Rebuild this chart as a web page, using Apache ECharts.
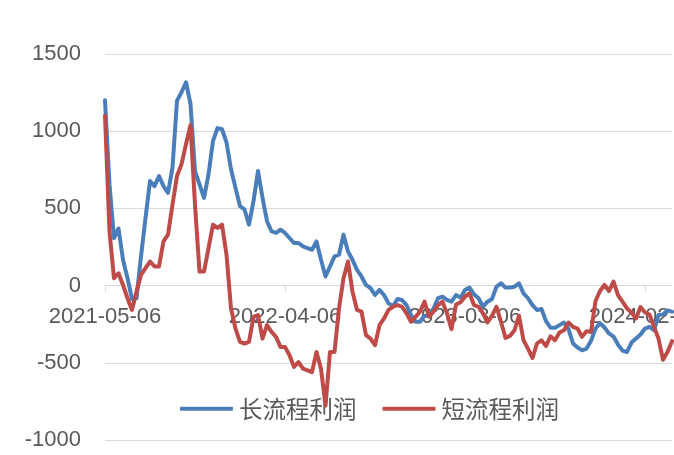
<!DOCTYPE html>
<html>
<head>
<meta charset="utf-8">
<script src="https://cdn.jsdelivr.net/npm/echarts@6/dist/echarts.min.js"></script>
<style>
html,body{margin:0;padding:0;background:#fff;}
#chart{width:674px;height:455px;}
</style>
</head>
<body>
<div id="chart"></div>
<script>
const seriesNames = ['长流程利润', '短流程利润'];
const tickLabels = ['2021-05-06', '2022-04-06', '2023-03-06', '2024-02-06'];
const tickEvery = 40;
const longProfit = [
  1200, 655, 308, 370, 167, 48, -87, -82, 189, 438,
  677, 644, 710, 644, 601, 764, 1198, 1252, 1317, 1176,
  742, 655, 568, 720, 937, 1020, 1013, 927, 753, 634,
  514, 493, 395, 547, 742, 569, 417, 352, 341, 362,
  341, 308, 276, 276, 254, 243, 232, 286, 167, 59,
  124, 189, 200, 330, 221, 167, 102, 59, 4, -17,
  -61, -28, -61, -115, -132, -87, -93, -126, -191, -234,
  -234, -195, -195, -148, -82, -72, -93, -104, -61, -78,
  -28, -13, -56, -82, -137, -104, -87, -7, 15, -13,
  -13, -7, 15, -50, -82, -126, -158, -152, -230, -273,
  -273, -256, -239, -282, -375, -401, -419, -408, -358, -278,
  -243, -271, -310, -330, -382, -421, -430, -369, -343, -317,
  -278, -267, -289, -191, -187, -161, -169
];
const shortProfit = [
  1100, 350, 48, 80, 4, -82, -158, -39, 69, 113,
  156, 124, 124, 286, 330, 525, 710, 785, 916, 1040,
  525, 91, 91, 243, 395, 373, 395, 200, -148, -278,
  -365, -375, -365, -202, -191, -343, -256, -300, -332, -397,
  -397, -451, -527, -495, -538, -549, -560, -430, -538, -777,
  -430, -430, -148, 48, 156, -39, -158, -169, -321, -343,
  -386, -256, -213, -158, -137, -126, -137, -180, -234, -202,
  -169, -104, -202, -169, -126, -104, -180, -282, -122, -108,
  -72, -50, -126, -137, -180, -239, -195, -137, -234, -339,
  -326, -289, -195, -354, -408, -469, -375, -354, -391, -328,
  -354, -304, -289, -239, -267, -278, -332, -295, -300, -100,
  -35, 4, -35, 26, -61, -104, -148, -174, -213, -139,
  -174, -187, -267, -343, -480, -430, -360
];
const categories = longProfit.map((_, i) => (i % tickEvery === 0 ? (tickLabels[i / tickEvery] || '') : ''));

const yMin = -1000, yMax = 1500;
const gridTop = 54, gridBottom = 15, chartH = 455;
// place the category axis on the value 0 line
const zeroOffset = -((chartH - gridTop - gridBottom) * (0 - yMin) / (yMax - yMin));

const chart = echarts.init(document.getElementById('chart'), null, {renderer: 'canvas'});
const labelColor = '#595959';
const gridColor = '#d9d9d9';
chart.setOption({
  animation: false,
  backgroundColor: '#ffffff',
  grid: {left: 105, right: 2, top: gridTop, bottom: gridBottom, containLabel: false, outerBoundsMode: 'none'},
  legend: {
    left: 175, top: 392,
    itemWidth: 53, itemHeight: 4, itemGap: 26,
    icon: 'roundRect',
    textStyle: {color: labelColor, fontSize: 23.5, fontFamily: '"Noto Sans CJK SC", sans-serif', padding: [0, 0, 0, 1]},
    data: seriesNames
  },
  xAxis: {
    type: 'category',
    data: categories,
    boundaryGap: false,
    offset: zeroOffset,
    axisLine: {onZero: false, lineStyle: {color: gridColor, width: 1}},
    axisTick: {show: true, interval: tickEvery - 1, length: 6, lineStyle: {color: gridColor}},
    axisLabel: {interval: tickEvery - 1, color: labelColor, fontSize: 22, fontFamily: '"Liberation Sans", Arial, sans-serif', margin: 20},
    splitLine: {show: false}
  },
  yAxis: {
    type: 'value',
    min: yMin, max: yMax, interval: 500,
    axisLine: {show: false},
    axisTick: {show: false},
    axisLabel: {color: labelColor, fontSize: 22, fontFamily: '"Liberation Sans", Arial, sans-serif', margin: 24, formatter: v => String(v)},
    splitLine: {show: true, lineStyle: {color: gridColor, width: 1}}
  },
  series: [
    {
      name: seriesNames[0], type: 'line', data: longProfit,
      symbol: 'none', smooth: false,
      itemStyle: {color: '#4a7ebb'},
      lineStyle: {color: '#4a7ebb', width: 4, cap: 'round', join: 'round'},
      z: 3
    },
    {
      name: seriesNames[1], type: 'line', data: shortProfit,
      symbol: 'none', smooth: false,
      itemStyle: {color: '#be4b48'},
      lineStyle: {color: '#be4b48', width: 4, cap: 'round', join: 'round'},
      z: 4
    }
  ]
});
</script>
</body>
</html>
